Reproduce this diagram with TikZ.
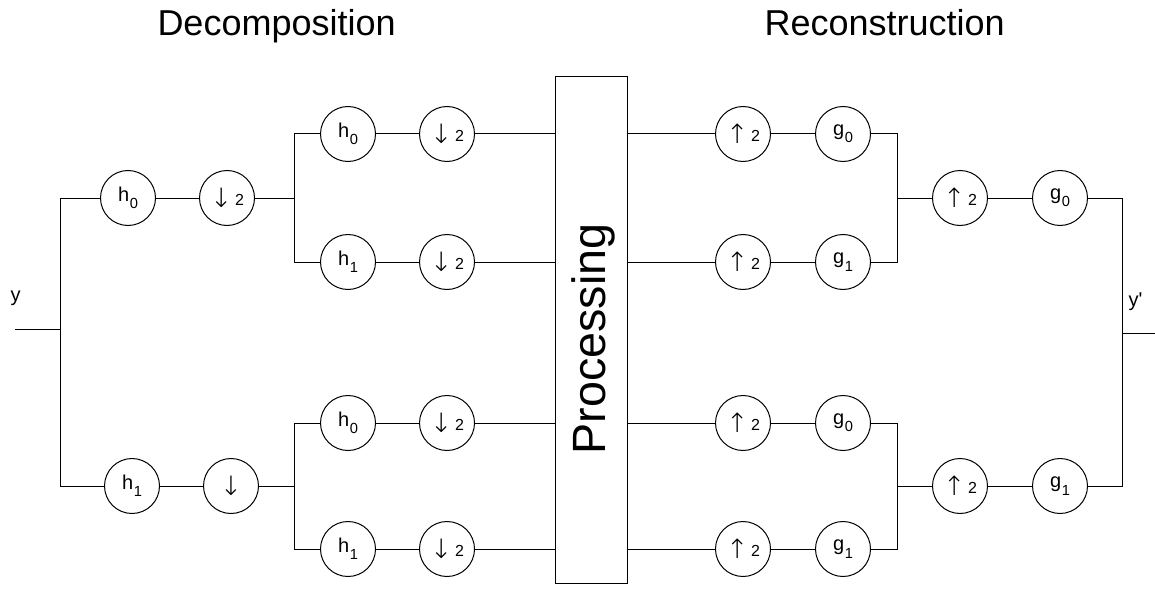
\documentclass[tikz,border=0pt]{standalone}
\usepackage{fontspec}
\setmainfont{Liberation Sans}
\newfontfamily\arrfont{DejaVu Sans ExtraLight}
\newcommand\hsub[2]{{\fontsize{15}{15}\selectfont #1\kern0.5pt\raisebox{-5.5pt}{\fontsize{11}{11}\selectfont #2}}}
\newcommand\dntwo{{\arrfont\fontsize{20}{20}\selectfont ↓}\kern2pt\raisebox{1.5pt}{\fontsize{12}{12}\selectfont 2}}
\newcommand\dnone{{\arrfont\fontsize{20}{20}\selectfont ↓}}
\newcommand\uptwo{{\arrfont\fontsize{20}{20}\selectfont ↑}\kern2pt\raisebox{1.5pt}{\fontsize{12}{12}\selectfont 2}}
\begin{document}
\begin{tikzpicture}[x=0.75pt,y=-0.75pt,line width=0.75pt,
  flt/.style={circle,draw,line width=0.75pt,minimum size=41.25pt,inner sep=0pt},
  ttl/.style={anchor=base west,inner sep=0pt,font=\fontsize{27}{27}\selectfont},
  sig/.style={anchor=base west,inner sep=0pt,font=\fontsize{15}{15}\selectfont}]
\useasboundingbox (0,0) rectangle (1155,599);
% titles
\node[ttl] (t1) at (157,36) {Decomposition};
\node[ttl] (t2) at (764,36) {Reconstruction};
% processing box
\node[draw,minimum width=54pt,minimum height=379.5pt,inner sep=0pt] (proc) at (591,330) {};
\node[rotate=90,inner sep=0pt,font=\fontsize{35}{35}\selectfont] (ptext) at (593,339) {Processing};
% signal labels
\node[sig] (ylab) at (10,301) {y};
\node[sig] (yplab) at (1128,306) {y\textquotesingle};
% coordinates
\coordinate (yin) at (15,329);
\coordinate (jA) at (60,329);
\coordinate (jB) at (294,198);
\coordinate (jC) at (294,486);
\coordinate (jD) at (897,198);
\coordinate (jE) at (897,486);
\coordinate (jF) at (1122,333);
\coordinate (yout) at (1155,333);
% first decomposition stage
\node[flt] (a0) at (128,198) {\hsub h0};
\node[flt] (b0) at (227,198) {\dntwo};
\node[flt] (a1) at (132,486) {\hsub h1};
\node[flt] (b1) at (231,486) {\dnone};
% second decomposition stage
\node[flt] (c1) at (348,134) {\hsub h0};
\node[flt] (d1) at (447,134) {\dntwo};
\node[flt] (c2) at (348,262) {\hsub h1};
\node[flt] (d2) at (447,262) {\dntwo};
\node[flt] (c3) at (348,423) {\hsub h0};
\node[flt] (d3) at (447,423) {\dntwo};
\node[flt] (c4) at (348,549) {\hsub h1};
\node[flt] (d4) at (447,549) {\dntwo};
% first reconstruction stage
\node[flt] (e1) at (743,134) {\uptwo};
\node[flt] (f1) at (843,134) {\hsub g0};
\node[flt] (e2) at (743,262) {\uptwo};
\node[flt] (f2) at (843,262) {\hsub g1};
\node[flt] (e3) at (743,423) {\uptwo};
\node[flt] (f3) at (843,423) {\hsub g0};
\node[flt] (e4) at (743,549) {\uptwo};
\node[flt] (f4) at (843,549) {\hsub g1};
% second reconstruction stage
\node[flt] (k1) at (960,198) {\uptwo};
\node[flt] (l1) at (1060,198) {\hsub g0};
\node[flt] (k2) at (960,486) {\uptwo};
\node[flt] (l2) at (1060,486) {\hsub g1};
% wires: decomposition
\draw (yin) -- (jA);
\draw (a0) -- (a0 -| jA) -- (a1 -| jA) -- (a1);
\draw (a0) -- (b0);
\draw (a1) -- (b1);
\draw (b0) -- (jB);
\draw (b1) -- (jC);
\draw (c1) -- (c1 -| jB) -- (c2 -| jB) -- (c2);
\draw (c3) -- (c3 -| jC) -- (c4 -| jC) -- (c4);
\foreach \i in {1,2,3,4}{
  \draw (c\i) -- (d\i);
  \draw (d\i) -- (d\i -| proc.west);
  \draw (e\i -| proc.east) -- (e\i);
  \draw (e\i) -- (f\i);
}
% wires: reconstruction
\draw (f1) -- (f1 -| jD) -- (f2 -| jD) -- (f2);
\draw (f3) -- (f3 -| jE) -- (f4 -| jE) -- (f4);
\draw (jD) -- (k1);
\draw (jE) -- (k2);
\draw (k1) -- (l1);
\draw (k2) -- (l2);
\draw (l1) -- (l1 -| jF) -- (l2 -| jF) -- (l2);
\draw (jF) -- (yout);
\end{tikzpicture}
\end{document}
